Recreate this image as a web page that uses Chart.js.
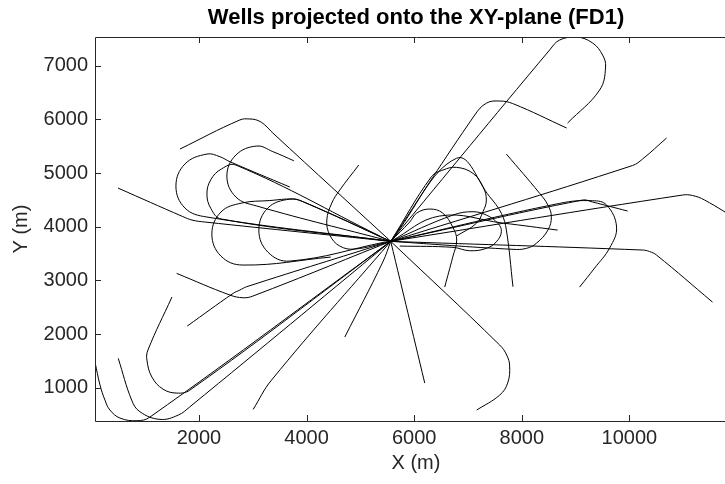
<!DOCTYPE html>
<html>
<head>
<meta charset="utf-8">
<script src="https://cdn.jsdelivr.net/npm/chart.js@4.4.1/dist/chart.umd.min.js"></script>
<style>
html,body{margin:0;padding:0;background:#fff;overflow:hidden;}
#wrap{width:740px;height:484px;}
</style>
</head>
<body>
<div id="wrap"><canvas id="c" width="740" height="484"></canvas></div>
<script>
// Horizontal well paths (metres), every path starts at the drilling centre.
const xTicks = [2000, 4000, 6000, 8000, 10000];
const yTicks = [1000, 2000, 3000, 4000, 5000, 6000, 7000];
const X_MIN = 69, X_MAX = 12000, Y_MIN = 380, Y_MAX = 7536;

const wellA_x = [5565, 2111, 1870, 1700, 496];
const wellA_y = [3728, 4088, 4125, 4190, 4721];
const wellB_x = [5565, 3374, 3226, 3096, 2947, 2761, 1647];
const wellB_y = [3728, 5747, 5896, 5980, 6008, 5990, 5448];
const wellC_x = [5565, 3003, 2823, 2576, 1586];
const wellC_y = [3728, 2708, 2677, 2727, 3131];
const wellD_x = [5565, 2886, 2761, 2637, 1783];
const wellD_y = [3728, 2882, 2820, 2759, 2149];
const wellE_x = [5565, 1833, 1591, 1331, 1127, 1034, 1053, 1499];
const wellE_y = [3728, 956, 900, 975, 1198, 1515, 1702, 2690];
const wellF_x = [5565, 1090, 849, 533, 347, 254, 162, 69];
const wellF_y = [3728, 453, 385, 435, 584, 770, 1050, 1478];
const wellG_x = [5565, 1833, 1616, 1276, 904, 750, 501];
const wellG_y = [3728, 645, 490, 410, 552, 770, 1547];
const wellH_x = [5565, 3350, 3008];
const wellH_y = [3728, 1143, 596];
const wellI_x = [5565, 5417, 4711];
const wellI_y = [3728, 3342, 1944];
const wellJ_x = [5565, 6197];
const wellJ_y = [3728, 1087];
const wellK_x = [5565, 7590, 7720, 7775, 7738, 7590, 7163];
const wellK_y = [3728, 1795, 1609, 1403, 1087, 863, 584];
const wellL_x = [5565, 10245, 10375, 10505, 11545];
const wellL_y = [3728, 3566, 3538, 3472, 2596];
const wellM_x = [5565, 8704, 9317, 9577, 9762, 9632, 9354, 9075];
const wellM_y = [3728, 4436, 4485, 4404, 3994, 3603, 3230, 2876];
const wellN_x = [5565, 9131, 9317, 9967];
const wellN_y = [3728, 4498, 4460, 4293];
const wellO_x = [5565, 10988, 11174, 11397, 12047];
const wellO_y = [3728, 4591, 4582, 4498, 4107];
const wellP_x = [5565, 10059, 10245, 10691];
const wellP_y = [3728, 5141, 5262, 5653];
const wellQ_x = [5565, 8518, 8704, 9019, 9317, 9502, 9558, 9447, 8852];
const wellQ_y = [3728, 7294, 7480, 7536, 7424, 7200, 6976, 6548, 5933];
const wellR_x = [5565, 7126, 7348, 7590, 7831, 8834];
const wellR_y = [3728, 6082, 6306, 6343, 6296, 5840];
const wellS_x = [5565, 6321, 6537, 6786, 7094, 7279, 7342, 7279, 7156, 6786];
const wellS_y = [3728, 4932, 5057, 5107, 4995, 4746, 4498, 4280, 4063, 3827];
const wellT_x = [5565, 6786, 7404, 7621, 7714, 7837];
const wellT_y = [3728, 5275, 4559, 4250, 3938, 2882];
const wellU_x = [5565, 5918, 6048, 6290, 6531, 6717, 6791, 6717, 6568];
const wellU_y = [3728, 4088, 4255, 4330, 4255, 3994, 3752, 3435, 2876];
const wellV_x = [5565, 6722, 7094, 7342, 7558, 7621, 7528, 7342, 7032, 6722, 5733];
const wellV_y = [3728, 4218, 4280, 4218, 4063, 3907, 3720, 3597, 3553, 3616, 3640];
const wellW_x = [5565, 7837, 8086, 8271, 8486, 8550, 8486, 8332, 7714];
const wellW_y = [3728, 3579, 3597, 3691, 3938, 4186, 4404, 4623, 5355];
const wellX_x = [5565, 6475, 7645, 8667];
const wellX_y = [3728, 4200, 4069, 3938];
const wellL1_x = [5565, 2149, 1740, 1573, 1740, 2149, 2390, 2576, 3690];
const wellL1_y = [3728, 4181, 4349, 4759, 5169, 5355, 5305, 5212, 4740];
const wellL2_x = [5565, 3077, 2687, 2520, 2687, 3077, 3374, 3764];
const wellL2_y = [3728, 4386, 4554, 4945, 5336, 5504, 5400, 5230];
const wellL3_x = [5565, 2418, 2223, 2149, 2223, 2418, 2687, 5361];
const wellL3_y = [3728, 4144, 4339, 4610, 4880, 5076, 5150, 3827];
const wellL4_x = [5565, 3950, 3746, 3318, 2798, 2409, 2241, 2409, 2817, 4451];
const wellL4_y = [3728, 4460, 4516, 4488, 4442, 4274, 3864, 3454, 3286, 3435];
const wellL5_x = [5565, 3950, 3690, 3281, 3114, 3281, 3690, 5454];
const wellL5_y = [3728, 4460, 4516, 4349, 3938, 3528, 3360, 3714];
const wellAB_x = [5565, 4897, 4618, 4433, 4377, 4470, 4618, 4971];
const wellAB_y = [3728, 3584, 3640, 3845, 4125, 4442, 4684, 5150];

const wells = [
  [wellA_x, wellA_y], [wellB_x, wellB_y], [wellC_x, wellC_y], [wellD_x, wellD_y],
  [wellE_x, wellE_y], [wellF_x, wellF_y], [wellG_x, wellG_y], [wellH_x, wellH_y],
  [wellI_x, wellI_y], [wellJ_x, wellJ_y], [wellK_x, wellK_y], [wellL_x, wellL_y],
  [wellM_x, wellM_y], [wellN_x, wellN_y], [wellO_x, wellO_y], [wellP_x, wellP_y],
  [wellQ_x, wellQ_y], [wellR_x, wellR_y], [wellS_x, wellS_y], [wellT_x, wellT_y],
  [wellU_x, wellU_y], [wellV_x, wellV_y], [wellW_x, wellW_y], [wellX_x, wellX_y],
  [wellL1_x, wellL1_y], [wellL2_x, wellL2_y], [wellL3_x, wellL3_y],
  [wellL4_x, wellL4_y], [wellL5_x, wellL5_y], [wellAB_x, wellAB_y]
];

const FONT = '"Liberation Sans", Arial, Helvetica, sans-serif';
const AXIS_COLOR = '#262626';

const datasets = wells.map(([xs, ys], i) => ({
  label: 'well ' + (i + 1),
  data: xs.map((x, k) => ({ x, y: ys[k] })),
  showLine: true,
  borderColor: '#000',
  borderWidth: 1,
  pointRadius: 0,
  tension: 0.4,
  fill: false
}));

// Box, inward tick marks and the title, drawn on top of the wells.
const framePlugin = {
  id: 'frame',
  afterDraw(chart) {
    const { ctx, chartArea: a, scales: { x, y } } = chart;
    ctx.save();
    ctx.strokeStyle = AXIS_COLOR;
    ctx.lineWidth = 1;
    ctx.beginPath();
    ctx.moveTo(a.left + 0.5, a.top + 0.5);
    ctx.lineTo(a.right + 0.5, a.top + 0.5);
    ctx.lineTo(a.right + 0.5, a.bottom + 0.5);
    ctx.lineTo(a.left + 0.5, a.bottom + 0.5);
    ctx.closePath();
    ctx.stroke();
    const TL = 6;
    ctx.beginPath();
    xTicks.forEach(v => {
      const px = Math.round(x.getPixelForValue(v)) + 0.5;
      ctx.moveTo(px, a.bottom); ctx.lineTo(px, a.bottom - TL);
      ctx.moveTo(px, a.top); ctx.lineTo(px, a.top + TL);
    });
    yTicks.forEach(v => {
      const py = Math.round(y.getPixelForValue(v)) + 0.5;
      ctx.moveTo(a.left, py); ctx.lineTo(a.left + TL, py);
      ctx.moveTo(a.right, py); ctx.lineTo(a.right - TL, py);
    });
    ctx.stroke();
    ctx.fillStyle = '#000';
    ctx.font = 'bold 22px ' + FONT;
    ctx.textAlign = 'center';
    ctx.textBaseline = 'middle';
    ctx.fillText('Wells projected onto the XY-plane (FD1)', (a.left + a.right) / 2, 18);
    ctx.restore();
  }
};

new Chart(document.getElementById('c'), {
  type: 'scatter',
  data: { datasets },
  options: {
    responsive: false,
    animation: false,
    devicePixelRatio: 1,
    layout: { padding: { top: 37, right: 3, left: 0, bottom: 0 } },
    plugins: { legend: { display: false }, tooltip: { enabled: false }, title: { display: false } },
    scales: {
      x: {
        type: 'linear', min: X_MIN, max: X_MAX,
        grid: { display: false, drawTicks: false }, border: { display: false },
        afterBuildTicks: s => { s.ticks = xTicks.map(v => ({ value: v })); },
        afterFit: s => { s.height = 63; },
        ticks: { padding: 5, color: AXIS_COLOR, font: { family: FONT, size: 20 }, maxRotation: 0, autoSkip: false, callback: v => String(v) },
        title: { display: true, text: 'X (m)', color: AXIS_COLOR, font: { family: FONT, size: 20 }, padding: { top: 0, bottom: 9 } }
      },
      y: {
        type: 'linear', min: Y_MIN, max: Y_MAX,
        grid: { display: false, drawTicks: false }, border: { display: false },
        afterBuildTicks: s => { s.ticks = yTicks.map(v => ({ value: v })); },
        afterFit: s => { s.width = 95; },
        ticks: { padding: 7, color: AXIS_COLOR, font: { family: FONT, size: 20 }, autoSkip: false, callback: v => String(v) },
        title: { display: true, text: 'Y (m)', color: AXIS_COLOR, font: { family: FONT, size: 20 }, padding: { top: 9, bottom: 0 } }
      }
    }
  },
  plugins: [framePlugin]
});
</script>
</body>
</html>
